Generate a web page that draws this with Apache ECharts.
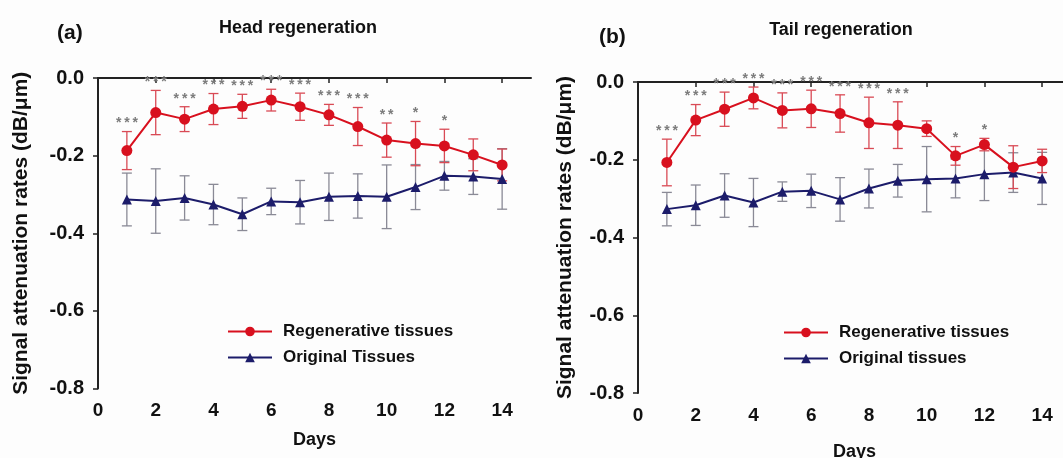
<!DOCTYPE html>
<html>
<head>
<meta charset="utf-8">
<script src="https://cdn.jsdelivr.net/npm/echarts@6/dist/echarts.min.js"></script>
<style>
  html, body { margin: 0; padding: 0; background: #fdfdfd; }
  #chart { width: 1063px; height: 458px; }
</style>
</head>
<body>
<div id="chart"></div>
<script>
// days 1..14
const days = [1, 2, 3, 4, 5, 6, 7, 8, 9, 10, 11, 12, 13, 14];
const dayTicks = [0, 2, 4, 6, 8, 10, 12, 14];

// (a) head regeneration
const headRegen = [-0.187, -0.089, -0.106, -0.080, -0.073, -0.057, -0.074, -0.095, -0.125, -0.160, -0.169, -0.175, -0.198, -0.224];
const headRegenErr = [0.049, 0.057, 0.032, 0.040, 0.031, 0.028, 0.035, 0.027, 0.049, 0.044, 0.057, 0.043, 0.041, 0.041];
const headOrig = [-0.313, -0.317, -0.309, -0.326, -0.351, -0.318, -0.320, -0.306, -0.304, -0.306, -0.281, -0.252, -0.254, -0.260];
const headOrigErr = [0.068, 0.083, 0.057, 0.052, 0.042, 0.034, 0.056, 0.061, 0.057, 0.082, 0.058, 0.037, 0.046, 0.078];
const headStars = ['***', '***', '***', '***', '***', '***', '***', '***', '***', '**', '*', '*', '', ''];

// (b) tail regeneration
const tailRegen = [-0.207, -0.098, -0.070, -0.041, -0.073, -0.069, -0.081, -0.105, -0.111, -0.120, -0.190, -0.161, -0.219, -0.203];
const tailRegenErr = [0.060, 0.040, 0.044, 0.028, 0.045, 0.048, 0.048, 0.066, 0.060, 0.020, 0.024, 0.016, 0.055, 0.030];
const tailOrig = [-0.327, -0.317, -0.292, -0.310, -0.282, -0.280, -0.302, -0.274, -0.254, -0.250, -0.248, -0.237, -0.233, -0.248];
const tailOrigErr = [0.043, 0.052, 0.056, 0.062, 0.025, 0.043, 0.056, 0.050, 0.042, 0.084, 0.050, 0.068, 0.051, 0.067];
const tailStars = ['***', '***', '***', '***', '***', '***', '***', '***', '***', '', '*', '*', '', ''];

const RED = '#d8101e';
const RED_BAR = '#d94a55';
const NAVY = '#1c1c6a';
const GRAY_BAR = '#8a8a96';
const FONT = '"Liberation Sans", Arial, sans-serif';

const chart = echarts.init(document.getElementById('chart'));

function pairs(vals) {
    return days.map((d, i) => [d, vals[i]]);
}

function triples(vals, errs) {
    return days.map((d, i) => [d, vals[i], errs[i]]);
}

// error bar drawing, with optional significance stars above the cap
function errorBars(color, stars) {
    return function (params, api) {
        const x = api.value(0);
        const m = api.value(1);
        const e = api.value(2);
        const top = api.coord([x, m + e]);
        const bot = api.coord([x, m - e]);
        const hw = 5;
        const style = { stroke: color, lineWidth: 1.3 };
        const children = [
            { type: 'line', shape: { x1: top[0], y1: top[1], x2: bot[0], y2: bot[1] }, style: style },
            { type: 'line', shape: { x1: top[0] - hw, y1: top[1], x2: top[0] + hw, y2: top[1] }, style: style },
            { type: 'line', shape: { x1: bot[0] - hw, y1: bot[1], x2: bot[0] + hw, y2: bot[1] }, style: style }
        ];
        if (stars && stars[params.dataIndex]) {
            children.push({
                type: 'text',
                x: top[0],
                y: top[1] - 1,
                style: {
                    text: stars[params.dataIndex].split('').join('\u2009'),
                    fill: '#7c7c7c',
                    font: 'bold 14px ' + FONT,
                    textAlign: 'center',
                    textVerticalAlign: 'bottom'
                }
            });
        }
        return { type: 'group', children: children };
    };
}

function xAxisFor(idx, gap) {
    return {
        type: 'value',
        gridIndex: idx,
        min: 0,
        max: 15,
        interval: 2,
        name: 'Days',
        nameLocation: 'middle',
        nameGap: gap,
        nameTextStyle: { fontFamily: FONT, fontWeight: 'bold', fontSize: 18, color: '#111' },
        axisLine: { lineStyle: { color: '#222', width: 2 } },
        axisTick: { customValues: dayTicks, length: 5, lineStyle: { color: '#222', width: 1.5 } },
        axisLabel: {
            customValues: dayTicks,
            margin: 13,
            fontFamily: FONT, fontWeight: 'bold', fontSize: 19, color: '#111'
        },
        splitLine: { show: false }
    };
}

function yAxisFor(idx, gap) {
    return {
        type: 'value',
        gridIndex: idx,
        min: -0.8,
        max: 0,
        interval: 0.2,
        name: 'Signal attenuation rates (dB/\u03bcm)',
        nameLocation: 'middle',
        nameGap: gap,
        nameTextStyle: { fontFamily: FONT, fontWeight: 'bold', fontSize: 21, color: '#111' },
        axisLine: { show: true, lineStyle: { color: '#222', width: 2 } },
        axisTick: { show: true, length: 5, lineStyle: { color: '#222', width: 1.5 } },
        axisLabel: {
            margin: 14,
            fontFamily: FONT, fontWeight: 'bold', fontSize: 20, color: '#111',
            formatter: (v) => (Math.abs(v) < 1e-9 ? '0.0' : v.toFixed(1))
        },
        splitLine: { show: false }
    };
}

function lineSeries(name, vals, idx, color, symbol, size) {
    return {
        name: name,
        type: 'line',
        xAxisIndex: idx,
        yAxisIndex: idx,
        data: pairs(vals),
        symbol: symbol,
        symbolSize: size,
        lineStyle: { color: color, width: 2 },
        itemStyle: { color: color },
        z: 5
    };
}

function barSeries(vals, errs, idx, color, stars) {
    return {
        type: 'custom',
        xAxisIndex: idx,
        yAxisIndex: idx,
        data: triples(vals, errs),
        renderItem: errorBars(color, stars),
        clip: false,
        silent: true,
        z: 2
    };
}

const legendText = { fontFamily: FONT, fontWeight: 'bold', fontSize: 17, color: '#111', padding: [0, 0, 0, 6] };

const option = {
    backgroundColor: '#fdfdfd',
    animation: false,
    title: [
        { text: '(a)', left: 52, top: 18, textStyle: { fontFamily: FONT, fontWeight: 'bold', fontSize: 21, color: '#111' } },
        { text: 'Head regeneration', left: 293, top: 14, textAlign: 'center', textStyle: { fontFamily: FONT, fontWeight: 'bold', fontSize: 18, color: '#111' } },
        { text: '(b)', left: 594, top: 22, textStyle: { fontFamily: FONT, fontWeight: 'bold', fontSize: 21, color: '#111' } },
        { text: 'Tail regeneration', left: 836, top: 16, textAlign: 'center', textStyle: { fontFamily: FONT, fontWeight: 'bold', fontSize: 18, color: '#111' } }
    ],
    legend: [
        {
            data: ['Regenerative tissues', 'Original Tissues'],
            orient: 'vertical', left: 222, top: 318, itemWidth: 44, itemHeight: 12, itemGap: 9,
            textStyle: legendText
        },
        {
            data: ['Regenerative tissues', 'Original tissues'],
            orient: 'vertical', left: 778, top: 319, itemWidth: 44, itemHeight: 12, itemGap: 9,
            textStyle: legendText
        }
    ],
    grid: [
        { left: 98, top: 78, width: 433, height: 310.5, outerBoundsMode: 'none' },
        { left: 638, top: 82, width: 433, height: 311, outerBoundsMode: 'none' }
    ],
    xAxis: [xAxisFor(0, 43), xAxisFor(1, 50)],
    yAxis: [yAxisFor(0, 66), yAxisFor(1, 62)],
    series: [
        barSeries(headOrig, headOrigErr, 0, GRAY_BAR, null),
        barSeries(headRegen, headRegenErr, 0, RED_BAR, headStars),
        lineSeries('Original Tissues', headOrig, 0, NAVY, 'triangle', 10),
        lineSeries('Regenerative tissues', headRegen, 0, RED, 'circle', 11),
        barSeries(tailOrig, tailOrigErr, 1, GRAY_BAR, null),
        barSeries(tailRegen, tailRegenErr, 1, RED_BAR, tailStars),
        lineSeries('Original tissues', tailOrig, 1, NAVY, 'triangle', 10),
        lineSeries('Regenerative tissues', tailRegen, 1, RED, 'circle', 11)
    ]
};

chart.setOption(option);
window.addEventListener('resize', () => chart.resize());
</script>
</body>
</html>
